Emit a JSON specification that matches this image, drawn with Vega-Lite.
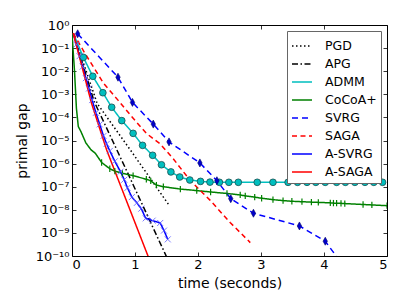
{
  "$schema": "https://vega.github.io/schema/vega-lite/v6.json",
  "width": 315,
  "height": 231,
  "autosize": "none",
  "padding": {"left": 72, "top": 25, "right": 20, "bottom": 51},
  "background": "white",
  "config": {
    "font": "DejaVu Sans",
    "view": {"stroke": "black", "strokeWidth": 1},
    "axis": {"grid": false, "domain": false, "tickColor": "black", "tickSize": -4, "tickWidth": 0.8, "labelColor": "black", "titleColor": "black", "labelFontSize": 13, "titleFontSize": 14, "titleFontWeight": "normal", "labelFont": "DejaVu Sans", "titleFont": "DejaVu Sans"},
    "legend": {"orient": "top-right", "title": null, "symbolType": "stroke", "symbolSize": 400, "symbolStrokeWidth": 1.5, "labelFontSize": 12.5, "labelFont": "DejaVu Sans", "labelColor": "black", "fillColor": "white", "strokeColor": "#666", "padding": 4, "rowPadding": -1.6, "labelOffset": 12, "offset": 6}
  },
  "data": {"values": [
    {"s":"PGD","t":0.02,"g":0.44},{"s":"PGD","t":0.4,"g":3.98e-4},{"s":"PGD","t":0.95,"g":3.16e-6},{"s":"PGD","t":1.54,"g":1.58e-8},
    {"s":"APG","t":0.02,"g":0.44},{"s":"APG","t":0.35,"g":5.0e-4},{"s":"APG","t":0.9,"g":3.16e-7},{"s":"APG","t":1.52,"g":7.1e-11},
    {"s":"ADMM","t":0.02,"g":0.44},{"s":"ADMM","t":0.18,"g":0.0398},{"s":"ADMM","t":0.33,"g":6.03e-3},{"s":"ADMM","t":0.49,"g":1.17e-3},{"s":"ADMM","t":0.63,"g":2.75e-4},{"s":"ADMM","t":0.79,"g":7.24e-5},{"s":"ADMM","t":0.97,"g":2.04e-5},{"s":"ADMM","t":1.12,"g":6.17e-6},{"s":"ADMM","t":1.28,"g":2.29e-6},{"s":"ADMM","t":1.42,"g":8.9e-7},{"s":"ADMM","t":1.57,"g":4.37e-7},{"s":"ADMM","t":1.71,"g":2.63e-7},{"s":"ADMM","t":1.87,"g":1.95e-7},{"s":"ADMM","t":2.04,"g":1.7e-7},{"s":"ADMM","t":2.19,"g":1.58e-7},{"s":"ADMM","t":2.34,"g":1.55e-7},{"s":"ADMM","t":2.49,"g":1.55e-7},{"s":"ADMM","t":2.64,"g":1.55e-7},{"s":"ADMM","t":2.94,"g":1.55e-7},{"s":"ADMM","t":3.19,"g":1.55e-7},{"s":"ADMM","t":3.43,"g":1.55e-7},{"s":"ADMM","t":3.58,"g":1.55e-7},{"s":"ADMM","t":3.73,"g":1.55e-7},{"s":"ADMM","t":3.87,"g":1.55e-7},{"s":"ADMM","t":4.02,"g":1.55e-7},{"s":"ADMM","t":4.2,"g":1.55e-7},{"s":"ADMM","t":4.34,"g":1.55e-7},{"s":"ADMM","t":4.49,"g":1.55e-7},{"s":"ADMM","t":4.65,"g":1.55e-7},{"s":"ADMM","t":4.79,"g":1.55e-7},{"s":"ADMM","t":4.93,"g":1.55e-7},
    {"s":"CoCoA+","t":0.0,"g":0.44},{"s":"CoCoA+","t":0.04,"g":0.01},{"s":"CoCoA+","t":0.07,"g":2.5e-4},{"s":"CoCoA+","t":0.1,"g":4.0e-5},{"s":"CoCoA+","t":0.14,"g":2.5e-5},{"s":"CoCoA+","t":0.22,"g":7.9e-6},{"s":"CoCoA+","t":0.3,"g":4.0e-6},{"s":"CoCoA+","t":0.37,"g":2.8e-6},{"s":"CoCoA+","t":0.47,"g":1.12e-6},{"s":"CoCoA+","t":0.6,"g":6.0e-7},{"s":"CoCoA+","t":0.68,"g":4.7e-7},{"s":"CoCoA+","t":0.8,"g":3.8e-7},{"s":"CoCoA+","t":0.97,"g":3.0e-7},{"s":"CoCoA+","t":1.18,"g":2.1e-7},{"s":"CoCoA+","t":1.25,"g":1.8e-7},{"s":"CoCoA+","t":1.34,"g":1.17e-7},{"s":"CoCoA+","t":1.45,"g":1.0e-7},{"s":"CoCoA+","t":1.72,"g":7.9e-8},{"s":"CoCoA+","t":1.98,"g":6.8e-8},{"s":"CoCoA+","t":2.2,"g":5.9e-8},{"s":"CoCoA+","t":2.46,"g":5.1e-8},{"s":"CoCoA+","t":2.67,"g":4.4e-8},{"s":"CoCoA+","t":2.75,"g":4.0e-8},{"s":"CoCoA+","t":2.9,"g":3.55e-8},{"s":"CoCoA+","t":3.01,"g":3.16e-8},{"s":"CoCoA+","t":3.19,"g":2.75e-8},{"s":"CoCoA+","t":3.35,"g":2.5e-8},{"s":"CoCoA+","t":3.49,"g":2.34e-8},{"s":"CoCoA+","t":3.65,"g":2.24e-8},{"s":"CoCoA+","t":3.8,"g":2.14e-8},{"s":"CoCoA+","t":3.91,"g":2.09e-8},{"s":"CoCoA+","t":4.1,"g":2.0e-8},{"s":"CoCoA+","t":4.15,"g":1.95e-8},{"s":"CoCoA+","t":4.2,"g":1.93e-8},{"s":"CoCoA+","t":4.27,"g":1.9e-8},{"s":"CoCoA+","t":4.33,"g":1.86e-8},{"s":"CoCoA+","t":4.62,"g":1.7e-8},{"s":"CoCoA+","t":4.76,"g":1.62e-8},{"s":"CoCoA+","t":5.0,"g":1.51e-8},
    {"s":"SVRG","t":0.09,"g":0.417},{"s":"SVRG","t":0.73,"g":5.5e-3},{"s":"SVRG","t":0.96,"g":4.47e-4},{"s":"SVRG","t":1.29,"g":5.13e-5},{"s":"SVRG","t":1.54,"g":8.7e-6},{"s":"SVRG","t":2.03,"g":1.07e-6},{"s":"SVRG","t":2.3,"g":1.82e-7},{"s":"SVRG","t":2.52,"g":3.02e-8},{"s":"SVRG","t":2.88,"g":7.08e-9},{"s":"SVRG","t":3.61,"g":2.0e-9},{"s":"SVRG","t":4.02,"g":4.37e-10},{"s":"SVRG","t":4.3,"g":4.0e-11},
    {"s":"SAGA","t":0.02,"g":0.44},{"s":"SAGA","t":0.2,"g":0.063},{"s":"SAGA","t":0.5,"g":3.0e-3},{"s":"SAGA","t":0.73,"g":5.6e-4},{"s":"SAGA","t":0.95,"g":1.07e-4},{"s":"SAGA","t":1.18,"g":2.04e-5},{"s":"SAGA","t":1.4,"g":7.1e-6},{"s":"SAGA","t":1.61,"g":1.58e-6},{"s":"SAGA","t":1.87,"g":1.95e-7},{"s":"SAGA","t":2.19,"g":2.63e-8},{"s":"SAGA","t":2.51,"g":2.82e-9},{"s":"SAGA","t":2.83,"g":3.8e-10},
    {"s":"A-SVRG","t":0.02,"g":0.42},{"s":"A-SVRG","t":0.07,"g":0.141},{"s":"A-SVRG","t":0.12,"g":0.0447},{"s":"A-SVRG","t":0.17,"g":0.0158},{"s":"A-SVRG","t":0.22,"g":5.0e-3},{"s":"A-SVRG","t":0.27,"g":1.78e-3},{"s":"A-SVRG","t":0.32,"g":5.62e-4},{"s":"A-SVRG","t":0.38,"g":1.58e-4},{"s":"A-SVRG","t":0.44,"g":5.0e-5},{"s":"A-SVRG","t":0.5,"g":1.58e-5},{"s":"A-SVRG","t":0.55,"g":7.08e-6},{"s":"A-SVRG","t":0.6,"g":3.55e-6},{"s":"A-SVRG","t":0.68,"g":1.26e-6},{"s":"A-SVRG","t":0.77,"g":4.47e-7},{"s":"A-SVRG","t":0.83,"g":2.0e-7},{"s":"A-SVRG","t":0.88,"g":8.9e-8},{"s":"A-SVRG","t":0.95,"g":3.55e-8},{"s":"A-SVRG","t":1.03,"g":2.0e-8},{"s":"A-SVRG","t":1.1,"g":1.12e-8},{"s":"A-SVRG","t":1.17,"g":4.27e-9},{"s":"A-SVRG","t":1.28,"g":3.39e-9},{"s":"A-SVRG","t":1.4,"g":2.69e-9},{"s":"A-SVRG","t":1.46,"g":1.26e-9},{"s":"A-SVRG","t":1.52,"g":5.25e-10},
    {"s":"A-SAGA","t":0.02,"g":0.44},{"s":"A-SAGA","t":0.31,"g":4.07e-4},{"s":"A-SAGA","t":0.55,"g":3.89e-6},{"s":"A-SAGA","t":1.23,"g":6.8e-11}
  ]},
  "resolve": {"axis": {"x": "independent", "y": "independent"}},
  "layer": [
    {
      "mark": {"type": "line", "strokeWidth": 1.5, "clip": true},
      "encoding": {
        "x": {"field": "t", "type": "quantitative", "scale": {"domain": [0, 5], "nice": false, "zero": false},
              "axis": {"values": [0,1,2,3,4,5], "title": "time (seconds)", "labelPadding": 6, "titlePadding": 5, "format": "d"}},
        "y": {"field": "g", "type": "quantitative", "scale": {"type": "log", "domain": [1e-10, 1], "nice": false},
              "axis": {"values": [1,0.1,0.01,0.001,0.0001,0.00001,0.000001,1e-7,1e-8,1e-9,1e-10], "title": "primal gap", "labelPadding": 7, "titlePadding": 6,
                       "labelExpr": "['10⁰','10⁻¹','10⁻²','10⁻³','10⁻⁴','10⁻⁵','10⁻⁶','10⁻⁷','10⁻⁸','10⁻⁹','10⁻¹⁰'][round(-log(datum.value)/LN10)]"}},
        "color": {"field": "s", "type": "nominal",
                  "scale": {"domain": ["PGD","APG","ADMM","CoCoA+","SVRG","SAGA","A-SVRG","A-SAGA"], "range": ["#000000","#000000","#00BFBF","#008000","#0000FF","#FF0000","#0000FF","#FF0000"]}},
        "strokeDash": {"field": "s", "type": "nominal",
                  "scale": {"domain": ["PGD","APG","ADMM","CoCoA+","SVRG","SAGA","A-SVRG","A-SAGA"], "range": [[1.5,2.5],[6,2.5,1.5,2.5],[1,0],[1,0],[6,4],[5,3.5],[1,0],[1,0]]}}
      }
    },
    {
      "transform": [{"filter": "datum.s == 'ADMM' && datum.t > 0.05"}],
      "mark": {"type": "point", "shape": "circle", "filled": true, "fill": "#00BFBF", "stroke": "#1a4d4d", "strokeWidth": 0.8, "size": 45, "opacity": 1, "clip": true},
      "encoding": {"x": {"field": "t", "type": "quantitative", "axis": null}, "y": {"field": "g", "type": "quantitative", "axis": null}}
    },
    {
      "transform": [{"filter": "datum.s == 'CoCoA+' && datum.t > 0.4"}],
      "mark": {"type": "point", "shape": "M0,-1L0,1", "filled": false, "stroke": "#008000", "strokeWidth": 1.2, "size": 40, "opacity": 1, "clip": true},
      "encoding": {"x": {"field": "t", "type": "quantitative", "axis": null}, "y": {"field": "g", "type": "quantitative", "axis": null}}
    },
    {
      "transform": [{"filter": "datum.s == 'SVRG'"}],
      "mark": {"type": "point", "shape": "M0,-1L0.55,0L0,1L-0.55,0Z", "filled": true, "fill": "#0000CC", "stroke": "#000066", "strokeWidth": 0.6, "size": 64, "opacity": 1, "clip": true},
      "encoding": {"x": {"field": "t", "type": "quantitative", "axis": null}, "y": {"field": "g", "type": "quantitative", "axis": null}}
    },
    {
      "transform": [{"filter": "datum.s == 'A-SVRG' && datum.t > 0.05"}],
      "mark": {"type": "point", "shape": "M-1,-1L1,1M-1,1L1,-1", "filled": false, "stroke": "#5a5aff", "strokeWidth": 0.8, "size": 36, "opacity": 1, "clip": true},
      "encoding": {"x": {"field": "t", "type": "quantitative", "axis": null}, "y": {"field": "g", "type": "quantitative", "axis": null}}
    },
    {
      "transform": [{"filter": "datum.s == 'PGD'"}],
      "mark": {"type": "point", "opacity": 0},
      "encoding": {
        "x": {"field": "t", "type": "quantitative", "axis": {"orient": "top", "values": [0,1,2,3,4,5], "labels": false, "title": null}},
        "y": {"field": "g", "type": "quantitative", "axis": {"orient": "right", "values": [1,0.1,0.01,0.001,0.0001,0.00001,0.000001,1e-7,1e-8,1e-9,1e-10], "labels": false, "title": null}}
      }
    }
  ]
}
